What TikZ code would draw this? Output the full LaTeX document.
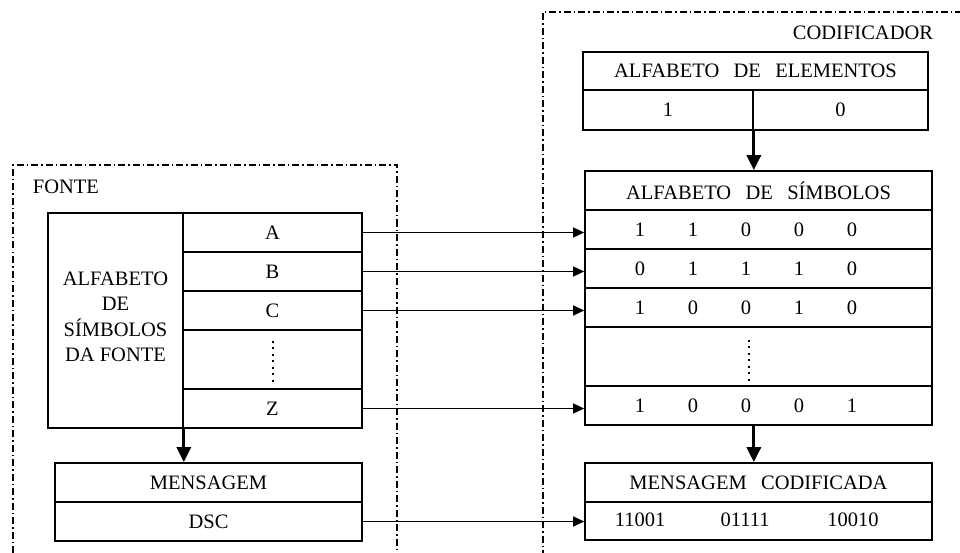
\documentclass[tikz,border=0pt]{standalone}
\usepackage{fontspec}
\setmainfont{Liberation Serif}
\usepackage{tikz}
\usetikzlibrary{arrows.meta,calc}

\begin{document}
\begin{tikzpicture}[
    x=1pt, y=-1pt,
    font=\fontsize{20.5}{25.5}\selectfont,
    cell/.style={draw, line width=1.7pt, inner sep=0pt, align=center},
    lrow/.style={cell, minimum width=179pt, minimum height=39pt},
    rrow/.style={cell, minimum width=347pt, minimum height=39pt},
    block/.style={dash pattern=on 7pt off 3pt on 1.5pt off 3pt, line width=1.2pt},
    arrow/.style={-{Triangle[length=11pt, width=10pt]}, line width=1.3pt},
    bigarrow/.style={-{Triangle[length=15pt, width=14pt]}, line width=3pt},
    dots/.style={line width=2pt, dash pattern=on 2pt off 4.5pt}
]
\useasboundingbox (0,0) rectangle (960,553);

% fonte
\draw[block] (13,553) -- (13,165) -- (397,165) -- (397,553);
\node (fonte) at (66,187) {FONTE};
\node[cell, minimum width=135pt, minimum height=215pt] (alf) at (115.5,320.5) {};
\node[align=center] (alftxt) at (115.5,317) {ALFABETO\\DE\\SÍMBOLOS\\DA FONTE};
\node[lrow] (A) at (272.5,232.5) {A};
\node[lrow] (B) at (272.5,271.5) {B};
\node[lrow] (C) at (272.5,310.5) {C};
\node[lrow, minimum height=59pt] (ldots) at (272.5,359.5) {};
\node[lrow] (Z) at (272.5,408.5) {Z};
\draw[dots] ($(ldots.center)+(0,-19)$) -- ($(ldots.center)+(0,23)$);
\node[cell, minimum width=307pt, minimum height=39pt] (msg) at (208.5,482.5) {MENSAGEM};
\node[cell, minimum width=307pt, minimum height=39pt] (dsc) at (208.5,521.5) {DSC};
\draw[bigarrow] (alf.south east) -- (alf.south east |- msg.north);

% codificador
\draw[block] (962,12) -- (543,12) -- (543,553);
\node (cod) at (863,33) {CODIFICADOR};
\node[cell, minimum width=345pt, minimum height=38pt] (elem) at (755.5,71)
    {ALFABETO\hspace{0.7em}DE\hspace{0.7em}ELEMENTOS};
\node[cell, minimum width=170pt, minimum height=40pt] (el1) at (668,110) {1};
\node[cell, minimum width=175pt, minimum height=40pt] (el0) at (840.5,110) {0};
\node[rrow] (simb) at (758.5,190.5) {ALFABETO\hspace{0.7em}DE\hspace{0.7em}SÍMBOLOS};
\node[rrow] (s1) at (758.5,229.5) {};
\node[rrow] (s2) at (758.5,268.5) {};
\node[rrow] (s3) at (758.5,307.5) {};
\node[rrow, minimum height=59pt] (sdots) at (758.5,356.5) {};
\node[rrow] (sz) at (758.5,405.5) {};
\draw[dots] ($(sdots.center)+(-10,-17)$) -- ($(sdots.center)+(-10,25)$);
\foreach \r/\b in {s1/{1,1,0,0,0}, s2/{0,1,1,1,0}, s3/{1,0,0,1,0}, sz/{1,0,0,0,1}}
    \foreach \d [count=\i] in \b
        \node at ([xshift={53*\i-171.5}]\r.center) {\d};
\node[rrow] (codh) at (758.5,482.5) {MENSAGEM\hspace{0.7em}CODIFICADA};
\node[rrow, minimum height=38pt] (codes) at (758.5,521) {};
\node at (640,520) {11001};
\node at (745,520) {01111};
\node at (853,520) {10010};
\draw[bigarrow] (el1.south east) -- (el1.south east |- simb.north);
\draw[bigarrow] (sz.south -| el1.south east) -- (el1.south east |- codh.north);

% ligacoes
\draw[arrow] (A.east) -- (A.east -| s1.west);
\draw[arrow] (B.east) -- (B.east -| s2.west);
\draw[arrow] (C.east) -- (C.east -| s3.west);
\draw[arrow] (Z.east) -- (Z.east -| sz.west);
\draw[arrow] (dsc.east) -- (dsc.east -| codes.west);
\end{tikzpicture}
\end{document}
